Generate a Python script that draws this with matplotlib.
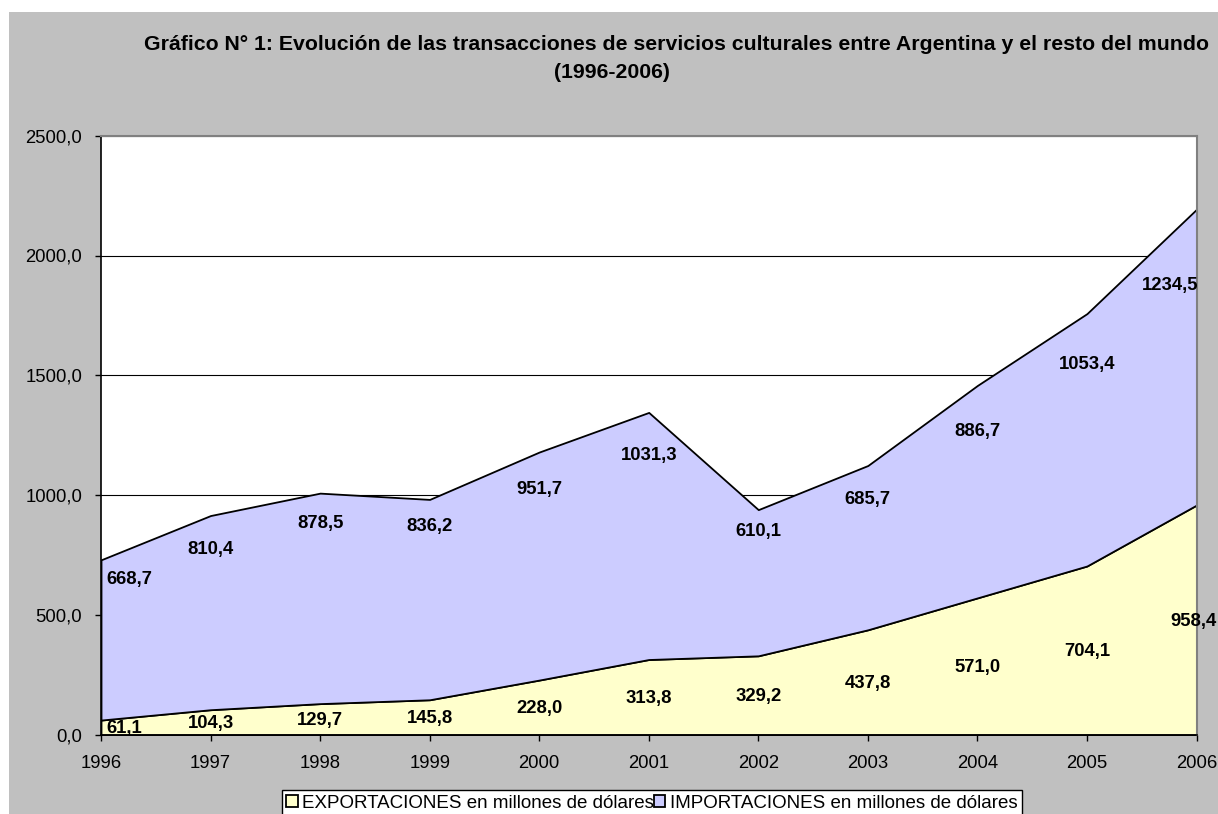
import matplotlib.pyplot as plt
import numpy as np
from matplotlib.patches import Rectangle

plt.rcParams['font.family'] = ['Liberation Sans', 'DejaVu Sans']

# datos (millones de dólares)
years = [1996, 1997, 1998, 1999, 2000, 2001, 2002, 2003, 2004, 2005, 2006]
exportaciones = [61.1, 104.3, 129.7, 145.8, 228.0, 313.8, 329.2, 437.8, 571.0, 704.1, 958.4]
importaciones = [668.7, 810.4, 878.5, 836.2, 951.7, 1031.3, 610.1, 685.7, 886.7, 1053.4, 1234.5]
# altura de las etiquetas de importaciones (como las pone Excel)
imp_label_y = [646, 771, 880, 867, 1022, 1164, 847, 980, 1264, 1544, 1874]

col_exp = '#FFFFCC'
col_imp = '#CCCCFF'
gris = '#C0C0C0'

def fmt(v):
    return ('%.1f' % v).replace('.', ',')

fig = plt.figure(figsize=(12.18, 8.14), dpi=100)
fig.patch.set_facecolor('white')
fig.patches.append(Rectangle((9/1218, 0), 1, 1 - 12/814, transform=fig.transFigure,
                             facecolor=gris, edgecolor='none', zorder=-10))

ax = fig.add_axes([101/1218, 1 - 734.7/814, (1196.5 - 101)/1218, (734.7 - 135.7)/814])
ax.set_facecolor('white')

x = np.array(years)
e = np.array(exportaciones)
i = np.array(importaciones)

ax.fill_between(x, 0, e, facecolor=col_exp, edgecolor='black', linewidth=1.3, zorder=2,
                label='EXPORTACIONES en millones de dólares')
ax.fill_between(x, e, e + i, facecolor=col_imp, edgecolor='black', linewidth=1.3, zorder=2,
                label='IMPORTACIONES en millones de dólares')

ax.set_xlim(1996, 2006)
ax.set_ylim(0, 2500)
ax.set_xticks(years)
ax.set_yticks(np.arange(0, 2501, 500))
ax.set_yticklabels([fmt(v) for v in np.arange(0, 2501, 500)])
ax.yaxis.grid(True, color='black', linewidth=0.8, zorder=0)
ax.set_axisbelow(True)
ax.tick_params(axis='both', direction='out', length=4, width=1, labelsize=13.3, colors='black')
ax.tick_params(axis='x', pad=10.5)
ax.tick_params(axis='y', pad=9.5)

for s in ['top', 'right']:
    ax.spines[s].set_color('#808080')
    ax.spines[s].set_linewidth(1.5)
for s in ['left', 'bottom']:
    ax.spines[s].set_color('black')
    ax.spines[s].set_linewidth(1.2)

# etiquetas
for k, yr in enumerate(years):
    ha_e, ha_i, dx_e, dx_i = 'center', 'center', 0, 0
    if k == 0:
        ha_e, ha_i, dx_e, dx_i = 'left', 'left', 5, 5
    if k == len(years) - 1:
        ha_i, dx_i = 'right', 2
        dx_e = -3
    ax.annotate(fmt(exportaciones[k]), (yr, exportaciones[k] / 2 - 5), xytext=(dx_e, 0),
                textcoords='offset pixels', ha=ha_e, va='center', fontsize=13.3,
                fontweight='bold', zorder=5, annotation_clip=False)
    ax.annotate(fmt(importaciones[k]), (yr, imp_label_y[k]), xytext=(dx_i, 0),
                textcoords='offset pixels', ha=ha_i, va='center', fontsize=13.3,
                fontweight='bold', zorder=5, annotation_clip=False)

fig.text(677/1218, 1 - 44/814,
         'Gráfico N° 1: Evolución de las transacciones de servicios culturales entre Argentina y el resto del mundo',
         ha='center', va='center', fontsize=15.3, fontweight='bold')
fig.text(612/1218, 1 - 73/814, '(1996-2006)', ha='center', va='center', fontsize=15.3, fontweight='bold')

leg = fig.legend(loc='upper left', bbox_to_anchor=(281.7/1218, 1 - 790/814), ncol=2,
                 fontsize=13.5, frameon=True, fancybox=False, edgecolor='black',
                 handlelength=0.6, handleheight=0.6, handletextpad=0.25, columnspacing=0.0,
                 borderpad=0.25, borderaxespad=0)
leg.get_frame().set_linewidth(1.0)
leg.get_frame().set_facecolor('white')
leg.get_frame().set_alpha(1)

fig.savefig('out.png', dpi=100)
